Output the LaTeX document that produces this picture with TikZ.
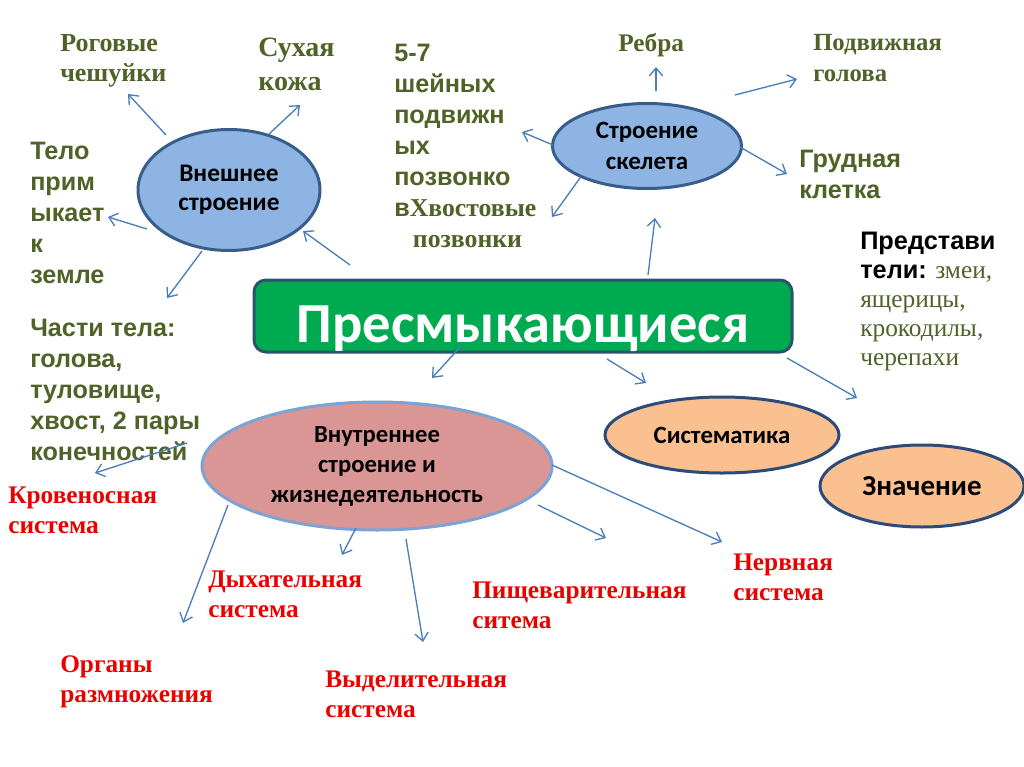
\documentclass[tikz,border=0pt]{standalone}
\usepackage{fontspec}
\setmainfont{Liberation Serif}
\newfontfamily\calibri{Carlito}
\newfontfamily\arialf{Liberation Sans}
\usetikzlibrary{shapes.geometric,arrows.meta}
\definecolor{olivetxt}{RGB}{79,98,40}
\definecolor{redtxt}{RGB}{235,0,0}
\definecolor{arrowblue}{RGB}{74,126,187}
\definecolor{skyfill}{RGB}{142,180,227}
\definecolor{skyline}{RGB}{56,93,138}
\definecolor{pinkfill}{RGB}{217,150,148}
\definecolor{pinkline}{RGB}{125,163,212}
\definecolor{peachfill}{RGB}{250,192,144}
\definecolor{peachline}{RGB}{44,75,120}
\definecolor{boxgreen}{RGB}{0,170,80}
\definecolor{boxline}{RGB}{40,84,108}
\tikzset{
  conn/.style={draw=arrowblue, line width=1pt, -{Straight Barb[length=6pt,width=10pt]}},
  txt/.style={inner sep=0pt, align=left, anchor=base west},
  sansol/.style={txt, text=olivetxt, font=\arialf\bfseries\fontsize{18.9}{23.25}\selectfont},
  serol/.style={txt, text=olivetxt, font=\bfseries\fontsize{19.5}{22.5}\selectfont},
  redt/.style={txt, text=redtxt, font=\bfseries\fontsize{19}{22.5}\selectfont},
  ell/.style={ellipse, inner sep=0pt, align=center, line width=2.25pt, text=black},
  blueell/.style={ell, draw=skyline, fill=skyfill},
  peachell/.style={ell, draw=peachline, fill=peachfill},
}
\begin{document}
\begin{tikzpicture}[x=0.75pt,y=-0.75pt]
\useasboundingbox (0,0) rectangle (1024,767);
\fill[white] (0,0) rectangle (1024,767);

% main title
\node[draw=boxline, fill=boxgreen, line width=2.25pt, rounded corners=9pt,
      minimum width=403.5pt, minimum height=54pt, inner sep=0pt,
      text height=39pt, text depth=0pt, text=white,
      font=\calibri\bfseries\fontsize{42.4}{48}\selectfont] (main) at (523,316) {Пресмыкающиеся};

% ellipses
\node[blueell, minimum width=136.5pt, minimum height=90.75pt,
      font=\calibri\bfseries\fontsize{19}{21.75}\selectfont] (ext) at (229,190) {Внешнее\\строение};
\node[blueell, minimum width=141.75pt, minimum height=63.75pt,
      font=\calibri\bfseries\fontsize{18.7}{23.25}\selectfont] (skel) at (647,146) {Строение\\скелета};
\node[ell, draw=pinkline, fill=pinkfill, minimum width=262.5pt, minimum height=96pt,
      font=\calibri\bfseries\fontsize{18.5}{22.5}\selectfont] (inner) at (377,466) {Внутреннее\\строение и\\жизнедеятельность};
\node[peachell, minimum width=175.5pt, minimum height=57pt,
      font=\calibri\bfseries\fontsize{18.6}{22}\selectfont] (sys) at (722,435) {Систематика};
\node[peachell, minimum width=153pt, minimum height=61.5pt,
      font=\calibri\bfseries\fontsize{21.7}{24}\selectfont] (znach) at (922,486) {Значение};

% olive texts (anchor = baseline of last line)
\node[serol] (rog) at (60,82) {Роговые\\чешуйки};
\node[serol, font=\bfseries\fontsize{21}{24.75}\selectfont] (sux) at (258,90) {Сухая\\кожа};
\node[sansol] (telo) at (30,283) {Тело\\прим\\ыкает\\к\\земле};
\node[sansol] (chasti) at (30,460) {Части тела:\\голова,\\туловище,\\хвост, 2 пары\\конечностей};
\node[sansol] (pozv) at (394,247) {5-7\\шейных\\подвижн\\ых\\позвонко\\в{\rmfamily\fontsize{19.3}{23.25}\selectfont Хвостовые}\\\hspace*{14pt}{\rmfamily\fontsize{19.3}{23.25}\selectfont позвонки}};
\node[serol, font=\bfseries\fontsize{19}{22.5}\selectfont] (rebra) at (618,52) {Ребра};
\node[serol, font=\bfseries\fontsize{18.5}{24}\selectfont] (podv) at (813,82) {Подвижная\\голова};
\node[sansol] (grud) at (799,198) {Грудная\\клетка};
\node[txt, text=olivetxt, font=\fontsize{19}{21.75}\selectfont] (pred) at (860,365)
  {{\arialf\bfseries\color{black}Представи}\\{\arialf\bfseries\color{black}тели:} змеи,\\ящерицы,\\крокодилы,\\черепахи};

% red texts
\node[redt] (krov) at (8,533) {Кровеносная\\система};
\node[redt] (dyx) at (208,617) {Дыхательная\\система};
\node[redt] (org) at (60,702) {Органы\\размножения};
\node[redt] (vyd) at (325,717) {Выделительная\\система};
\node[redt] (pisch) at (472,628) {Пищеварительная\\ситема};
\node[redt] (nerv) at (733,600) {Нервная\\система};

% connector end points
\coordinate (rogS) at (166,135);  \coordinate (rogE) at (128,94);
\coordinate (suxS) at (269,134);  \coordinate (suxE) at (300,105);
\coordinate (teloS) at (147,229); \coordinate (teloE) at (108,217);
\coordinate (chS) at (202,251);   \coordinate (chE) at (167,298);
\coordinate (extS) at (350,265);  \coordinate (extE) at (303,231);
\coordinate (rebS) at (656,91);   \coordinate (rebE) at (656,67);
\coordinate (pzS) at (553,145);   \coordinate (pzE) at (522,132);
\coordinate (xvS) at (580,178);   \coordinate (xvE) at (552,217);
\coordinate (skS) at (648,275);   \coordinate (skE) at (655,218);
\coordinate (pdS) at (735,95);    \coordinate (pdE) at (797,79);
\coordinate (grS) at (740,147);   \coordinate (grE) at (787,174);
\coordinate (znS) at (787,358);   \coordinate (znE) at (857,398);
\coordinate (syS) at (607,359);   \coordinate (syE) at (646,383);
\coordinate (inS) at (462,345);   \coordinate (inE) at (432,378);
\coordinate (krS) at (187,443);   \coordinate (krE) at (95,473);
\coordinate (orS) at (228,505);   \coordinate (orE) at (183,623);
\coordinate (dyS) at (356,528);   \coordinate (dyE) at (342,555);
\coordinate (vyS) at (406,539);   \coordinate (vyE) at (423,642);
\coordinate (piS) at (538,505);   \coordinate (piE) at (606,538);
\coordinate (neS) at (552,465);   \coordinate (neE) at (722,542);

\foreach \s/\e in {rogS/rogE, suxS/suxE, teloS/teloE, chS/chE, extS/extE,
  rebS/rebE, pzS/pzE, xvS/xvE, skS/skE, pdS/pdE, grS/grE, znS/znE, syS/syE,
  inS/inE, krS/krE, orS/orE, dyS/dyE, vyS/vyE, piS/piE, neS/neE}
  \draw[conn] (\s) -- (\e);
\end{tikzpicture}
\end{document}
